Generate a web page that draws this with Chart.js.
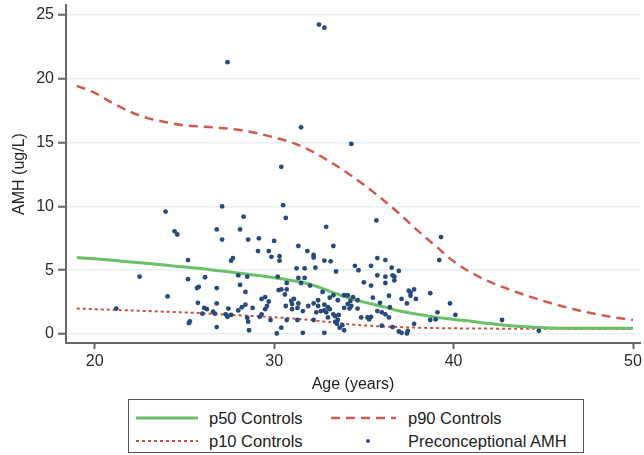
<!DOCTYPE html>
<html>
<head>
<meta charset="utf-8">
<script src="https://cdn.jsdelivr.net/npm/chart.js@4.4.1/dist/chart.umd.min.js"></script>
<style>
  html,body{margin:0;padding:0;background:#fff;}
  #wrap{position:relative;width:644px;height:455px;overflow:hidden;font-family:"Liberation Sans",Arial,sans-serif;}
  #c{position:absolute;left:0;top:0;}
  #legend{position:absolute;left:128px;top:399px;width:456px;height:54px;box-sizing:border-box;border:1px solid #555;background:#fff;}
  .it{position:absolute;font-size:16.5px;color:#222;line-height:20px;white-space:nowrap;}
  .sw{position:absolute;}
</style>
</head>
<body>
<div id="wrap">
  <canvas id="c" width="644" height="455"></canvas>
  <div id="legend">
    <svg class="sw" style="left:7px;top:14px" width="64" height="8"><line x1="0" y1="4" x2="62" y2="4" stroke="#6cbf69" stroke-width="3"/></svg>
    <div class="it" style="left:80px;top:8px">p50 Controls</div>
    <svg class="sw" style="left:202px;top:14px" width="66" height="8"><line x1="0" y1="4" x2="65" y2="4" stroke="#cf5a4f" stroke-width="2.5" stroke-dasharray="9 6"/></svg>
    <div class="it" style="left:279px;top:8px">p90 Controls</div>
    <svg class="sw" style="left:7px;top:37px" width="64" height="8"><line x1="0" y1="4" x2="62" y2="4" stroke="#cc4f45" stroke-width="2" stroke-dasharray="3 3"/></svg>
    <div class="it" style="left:80px;top:31px">p10 Controls</div>
    <svg class="sw" style="left:234px;top:36px" width="10" height="10"><circle cx="5" cy="5" r="2" fill="#27497d"/></svg>
    <div class="it" style="left:279px;top:31px">Preconceptional AMH</div>
  </div>
</div>
<script>
// reference curves (controls), one value per year of age
const ageGrid = [19,20,21,22,23,24,25,26,27,28,29,30,31,32,33,34,35,36,37,38,39,40,41,42,43,44,45,46,47,48,49,50];
const p50 = [6.0,5.9,5.78,5.65,5.52,5.4,5.25,5.12,4.95,4.78,4.6,4.42,4.2,3.9,3.4,2.9,2.5,2.17,1.8,1.55,1.32,1.15,1.0,0.82,0.68,0.58,0.5,0.46,0.45,0.45,0.45,0.45];
const p90 = [19.45,18.9,18.1,17.4,16.9,16.6,16.35,16.25,16.15,16.0,15.75,15.4,15.0,14.4,13.6,12.7,11.7,10.6,9.4,8.1,6.9,5.7,4.8,4.1,3.55,3.05,2.6,2.2,1.85,1.55,1.3,1.1];
const p10 = [2.0,1.95,1.9,1.85,1.8,1.75,1.7,1.63,1.55,1.47,1.4,1.32,1.22,1.1,0.95,0.8,0.68,0.6,0.55,0.5,0.47,0.45,0.44,0.43,0.42,0.42,0.41,0.41,0.4,0.4,0.4,0.4];

// preconceptional AMH
const ptAge = [21.2,22.5,23.95,24.06,24.45,24.6,25.2,25.2,25.25,25.3,25.7,25.8,25.75,26.0,26.1,26.15,26.25,26.6,26.7,26.8,
  26.8,26.8,26.8,27.1,27.1,27.3,27.4,27.4,27.45,27.6,27.6,27.7,28.0,28.0,28.1,28.1,28.2,28.3,28.4,28.4,
  28.5,28.5,28.55,28.55,28.6,28.8,29.1,29.15,29.2,29.3,29.3,29.5,29.5,29.6,29.7,29.7,29.8,29.85,30.0,30.15,
  30.2,30.25,30.3,30.3,30.4,30.4,30.4,30.5,30.6,30.65,30.65,30.7,30.7,30.7,30.95,31.0,31.0,31.1,31.25,31.3,
  31.3,31.35,31.35,31.35,31.5,31.5,31.6,31.6,31.7,31.7,31.85,31.9,32.0,32.2,32.2,32.2,32.2,32.3,32.35,32.45,
  32.45,32.5,32.6,32.7,32.8,32.8,32.8,32.8,32.8,32.9,32.9,33.0,33.0,33.1,33.1,33.15,33.3,33.3,33.3,33.4,
  33.4,33.45,33.5,33.55,33.55,33.6,33.65,33.8,33.9,33.9,33.9,34.1,34.1,34.2,34.25,34.3,34.3,34.4,34.5,34.65,
  34.65,34.7,34.85,35.0,35.2,35.3,35.4,35.4,35.4,35.5,35.7,35.75,35.75,35.75,35.9,36.0,36.0,36.2,36.2,36.2,
  36.2,36.4,36.4,36.45,36.55,36.6,36.6,36.7,36.7,36.95,36.95,37.1,37.1,37.4,37.4,37.45,37.5,37.6,37.6,37.8,
  37.8,37.9,38.7,38.7,39.0,39.1,39.2,39.3,39.8,40.1,42.7,44.75];
const ptAmh = [2.0,4.5,9.6,2.95,8.05,7.8,5.8,4.3,0.85,1.0,3.6,3.7,2.45,1.6,2.05,4.45,1.95,1.75,1.6,8.2,
  3.6,2.4,0.55,10.0,7.4,1.55,1.35,21.3,2.0,1.5,5.75,5.95,4.6,1.85,8.2,3.85,2.1,9.2,3.3,2.3,
  4.5,1.28,7.4,0.97,0.3,2.05,6.5,7.5,1.35,2.75,1.55,2.9,1.95,2.2,2.55,6.5,1.1,6.05,7.3,0.05,
  4.5,3.45,6.1,5.75,0.5,3.5,13.1,10.1,3.1,9.1,2.2,4.0,1.1,3.5,2.6,1.95,2.35,2.75,5.15,1.1,
  2.05,6.9,4.4,2.4,4.0,16.2,1.8,0.1,5.15,4.4,6.5,2.2,3.8,6.2,6.0,2.4,1.1,5.2,1.7,2.65,
  2.2,24.25,1.8,3.3,24.0,5.75,2.3,1.85,0.1,8.4,1.7,2.1,1.3,2.85,1.95,5.7,6.9,3.05,1.55,1.4,
  0.95,4.9,0.8,2.65,1.1,1.5,0.5,0.7,3.05,2.05,0.3,3.05,2.35,2.0,2.6,2.2,14.9,2.9,5.35,2.65,
  2.0,5.0,1.3,4.05,1.3,1.15,5.35,3.8,1.35,2.85,8.9,5.95,4.6,1.8,2.45,1.7,0.65,5.8,4.5,4.0,
  1.55,3.0,1.3,2.1,5.2,0.55,4.6,4.5,4.2,4.95,0.2,2.75,0.1,2.4,0.05,0.25,3.4,3.25,3.0,0.8,
  3.5,2.75,3.2,1.1,1.15,1.7,5.8,7.6,2.4,1.5,1.1,0.25];

const xTickVals = [20,30,40,50];
const yTickVals = [0,5,10,15,20,25];

const curve = arr => ageGrid.map((a,i)=>({x:a, y:arr[i]}));
const pts = ptAge.map((a,i)=>({x:a, y:ptAmh[i]}));

const font16 = {family:'"Liberation Sans", Arial, sans-serif', size:16};

new Chart(document.getElementById('c'), {
  type:'scatter',
  data:{
    datasets:[
      {label:'Preconceptional AMH', data:pts, pointStyle:'circle', pointRadius:2.4, pointBackgroundColor:'#27497d', pointBorderWidth:0, showLine:false},
      {label:'p50 Controls', data:curve(p50), showLine:true, borderColor:'#6cbf69', borderWidth:3, pointRadius:0, tension:0.4, cubicInterpolationMode:'monotone'},
      {label:'p90 Controls', data:curve(p90), showLine:true, borderColor:'#cf5a4f', borderWidth:2.5, borderDash:[9,6], pointRadius:0, tension:0.4, cubicInterpolationMode:'monotone'},
      {label:'p10 Controls', data:curve(p10), showLine:true, borderColor:'#cc4f45', borderWidth:2, borderDash:[3,3], pointRadius:0, tension:0.4, cubicInterpolationMode:'monotone'}
    ]
  },
  options:{
    responsive:false,
    animation:false,
    layout:{padding:{top:5,left:0,right:0,bottom:55}},
    plugins:{legend:{display:false}, tooltip:{enabled:false}},
    scales:{
      x:{
        type:'linear', min:18.4, max:50.39,
        afterBuildTicks: s => { s.ticks = xTickVals.map(v=>({value:v})); },
        afterFit: s => { s.height = 57; s.paddingLeft = 0; s.paddingRight = 0; },
        ticks:{font:font16, color:'#2a2a2a', padding:3, maxRotation:0},
        grid:{drawOnChartArea:false, drawTicks:true, tickLength:6, tickColor:'#666', tickWidth:2},
        border:{color:'#666', width:2},
        title:{display:true, text:'Age (years)', font:font16, color:'#222', padding:{top:0,bottom:6}}
      },
      y:{
        type:'linear', min:-0.7, max:25.78,
        afterBuildTicks: s => { s.ticks = yTickVals.map(v=>({value:v})); },
        afterFit: s => { s.width = 66; s.paddingTop = 0; s.paddingBottom = 0; },
        ticks:{font:font16, color:'#2a2a2a', padding:4},
        grid:{color:'#e8eff4', lineWidth:1.5, drawTicks:true, tickLength:8, tickColor:'#666', tickWidth:2},
        border:{color:'#666', width:2},
        title:{display:true, text:'AMH (ug/L)', font:font16, color:'#222', padding:{top:10,bottom:0}}
      }
    }
  }
});
</script>
</body>
</html>
